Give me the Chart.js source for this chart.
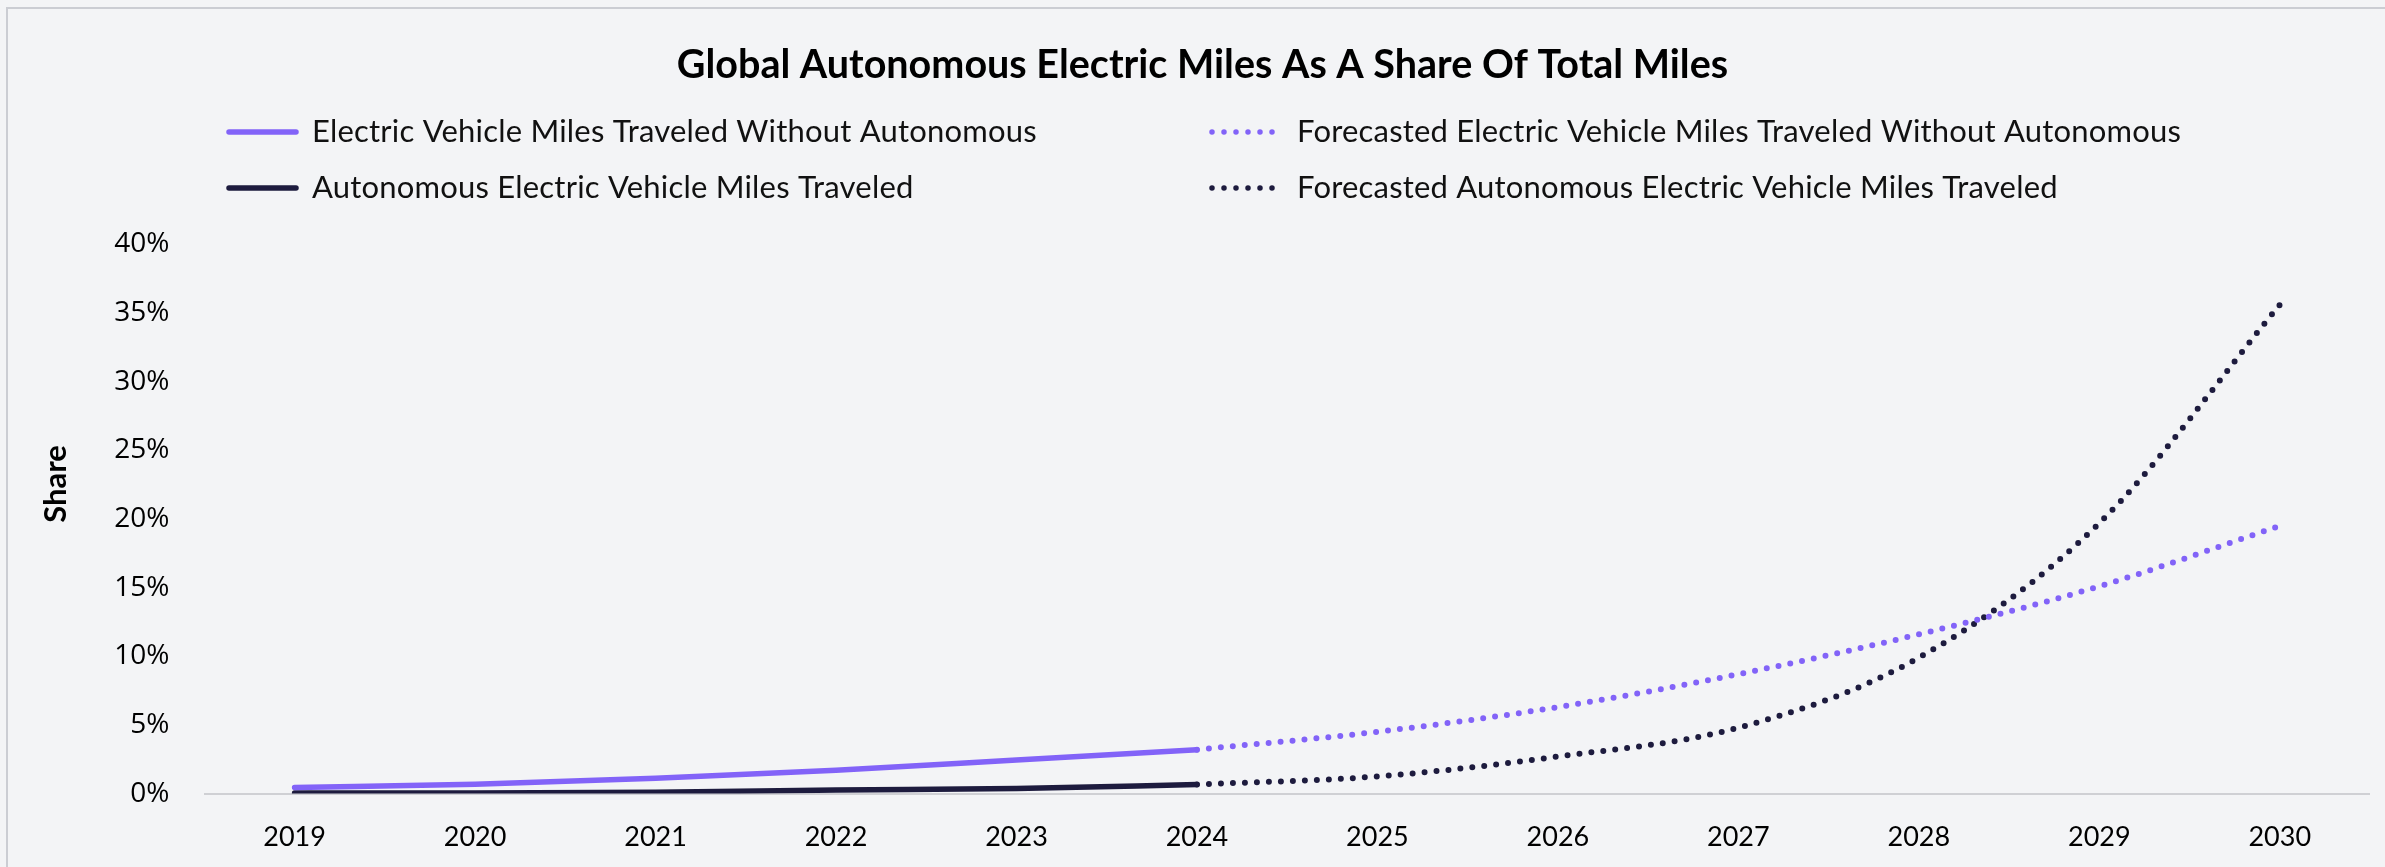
<!DOCTYPE html>
<html>
<head>
<meta charset="utf-8">
<script src="https://cdn.jsdelivr.net/npm/chart.js@4"></script>
<style>
  html, body { margin: 0; padding: 0; background: #f3f4f6; overflow: hidden; }
  canvas { display: block; }
</style>
</head>
<body>
<canvas id="chart"></canvas>
<script>
// dati (valori in %)
const years = ['2019', '2020', '2021', '2022', '2023', '2024', '2025', '2026', '2027', '2028', '2029', '2030'];
const evShare = [0.44, 0.68, 1.12, 1.7, 2.45, 3.2, null, null, null, null, null, null];
const evForecast = [null, null, null, null, null, 3.2, 4.5, 6.3, 8.7, 11.6, 15.1, 19.5];
const avShare = [0.05, 0.05, 0.1, 0.26, 0.38, 0.66, null, null, null, null, null, null];
const avForecast = [null, null, null, null, null, 0.66, 1.25, 2.7, 4.8, 9.9, 19.7, 35.6];
const yTicks = [0, 5, 10, 15, 20, 25, 30, 35, 40];

const purple = '#8263f8';
const navy = '#1d1b3e';
const bg = '#f3f4f6';

// sfondo e cornice grigia (solo bordo sopra e a sinistra)
const framePlugin = {
  id: 'frame',
  beforeDraw(chart) {
    const ctx = chart.ctx;
    ctx.save();
    ctx.fillStyle = bg;
    ctx.fillRect(0, 0, chart.width, chart.height);
    ctx.restore();
  },
  afterDraw(chart) {
    const ctx = chart.ctx;
    const a = chart.chartArea;
    ctx.save();
    // pulisce la fascia a destra dell'area del grafico
    ctx.fillStyle = bg;
    ctx.fillRect(a.right + 1, 10, chart.width - a.right, chart.height);
    ctx.fillStyle = '#cbcdd3';
    ctx.fillRect(6, 7, chart.width, 2);
    ctx.fillRect(6, 7, 2, chart.height);
    ctx.restore();
  }
};

// titolo asse Y, un po' più in alto del centro come nell'originale
// (lo spazio lo riserva il titolo trasparente dell'asse)
const yTitlePlugin = {
  id: 'yTitle',
  afterDraw(chart) {
    const ctx = chart.ctx;
    ctx.save();
    ctx.translate(56, 484);
    ctx.rotate(-Math.PI / 2);
    ctx.fillStyle = '#000000';
    ctx.font = 'bold 31px Lato';
    ctx.textAlign = 'center';
    ctx.textBaseline = 'middle';
    ctx.fillText('Share', 0, 0);
    ctx.restore();
  }
};

// legenda su due colonne disegnata a mano
const legendPlugin = {
  id: 'twoColLegend',
  afterDraw(chart) {
    const ctx = chart.ctx;
    const cols = [227, 1212];
    const rows = [132, 188];
    // ordine: riga 1 = viola, riga 2 = blu scuro
    const place = [[0, 0], [1, 0], [0, 1], [1, 1]];
    chart.data.datasets.forEach((ds, i) => {
      const x = cols[place[i][0]];
      const y = rows[place[i][1]];
      ctx.save();
      ctx.strokeStyle = ds.borderColor;
      ctx.lineWidth = 5.5;
      ctx.lineCap = 'round';
      ctx.setLineDash(ds.borderDash || []);
      ctx.beginPath();
      if (ds.borderDash) {
        ctx.moveTo(x, y);
        ctx.lineTo(x + 64, y);
      } else {
        ctx.moveTo(x + 2, y);
        ctx.lineTo(x + 69, y);
      }
      ctx.stroke();
      ctx.setLineDash([]);
      ctx.fillStyle = '#111111';
      ctx.font = '31px Lato';
      ctx.letterSpacing = '0.2px';
      ctx.textBaseline = 'middle';
      ctx.fillText(ds.label, x + 85, y);
      ctx.restore();
    });
  }
};

const config = {
  type: 'line',
  data: {
    labels: years,
    datasets: [
      {
        label: 'Electric Vehicle Miles Traveled Without Autonomous',
        data: evShare,
        borderColor: purple,
        borderWidth: 5.5,
        borderCapStyle: 'round',
        cubicInterpolationMode: 'monotone',
        pointRadius: 0
      },
      {
        label: 'Forecasted Electric Vehicle Miles Traveled Without Autonomous',
        data: evForecast,
        borderColor: purple,
        borderWidth: 6,
        borderDash: [0, 12],
        borderCapStyle: 'round',
        cubicInterpolationMode: 'monotone',
        pointRadius: 0
      },
      {
        label: 'Autonomous Electric Vehicle Miles Traveled',
        data: avShare,
        borderColor: navy,
        borderWidth: 5.5,
        borderCapStyle: 'round',
        cubicInterpolationMode: 'monotone',
        pointRadius: 0
      },
      {
        label: 'Forecasted Autonomous Electric Vehicle Miles Traveled',
        data: avForecast,
        borderColor: navy,
        borderWidth: 6,
        borderDash: [0, 12],
        borderCapStyle: 'round',
        cubicInterpolationMode: 'monotone',
        pointRadius: 0
      }
    ]
  },
  options: {
    responsive: false,
    animation: false,
    layout: { padding: { left: 35, right: 15, top: 0, bottom: -13 } },
    plugins: {
      legend: { display: false },
      tooltip: { enabled: false },
      title: {
        display: true,
        text: 'Global Autonomous Electric Miles As A Share Of Total Miles',
        color: '#000000',
        font: { family: 'Lato', size: 39.5, weight: 'bold' },
        padding: { top: 42, bottom: 155 }
      }
    },
    scales: {
      x: {
        offset: true,
        grid: { display: false, drawTicks: false },
        border: { display: false },
        ticks: {
          color: '#000000',
          padding: 27,
          maxRotation: 0,
          font: { family: 'Lato', size: 27 }
        }
      },
      y: {
        min: 0,
        max: 40,
        afterBuildTicks(axis) {
          axis.ticks = yTicks.map(v => ({ value: v }));
        },
        grid: {
          drawTicks: false,
          lineWidth: ctx => (ctx.tick && ctx.tick.value === 0 ? 2 : 0),
          color: '#cfd0d4'
        },
        border: { display: false },
        ticks: {
          color: '#000000',
          padding: 35,
          font: { family: 'Open Sans', size: 28 },
          callback: v => v + '%'
        },
        title: {
          display: true,
          text: 'Share',
          color: 'rgba(0,0,0,0)',
          font: { family: 'Lato', size: 26, weight: 'bold' },
          padding: { top: 0, bottom: 13 }
        }
      }
    }
  },
  plugins: [framePlugin, legendPlugin, yTitlePlugin]
};

const canvas = document.getElementById('chart');
canvas.width = 2385;
canvas.height = 867;
canvas.style.width = '2385px';
canvas.style.height = '867px';
const lineChart = new Chart(canvas, config);
</script>
</body>
</html>
